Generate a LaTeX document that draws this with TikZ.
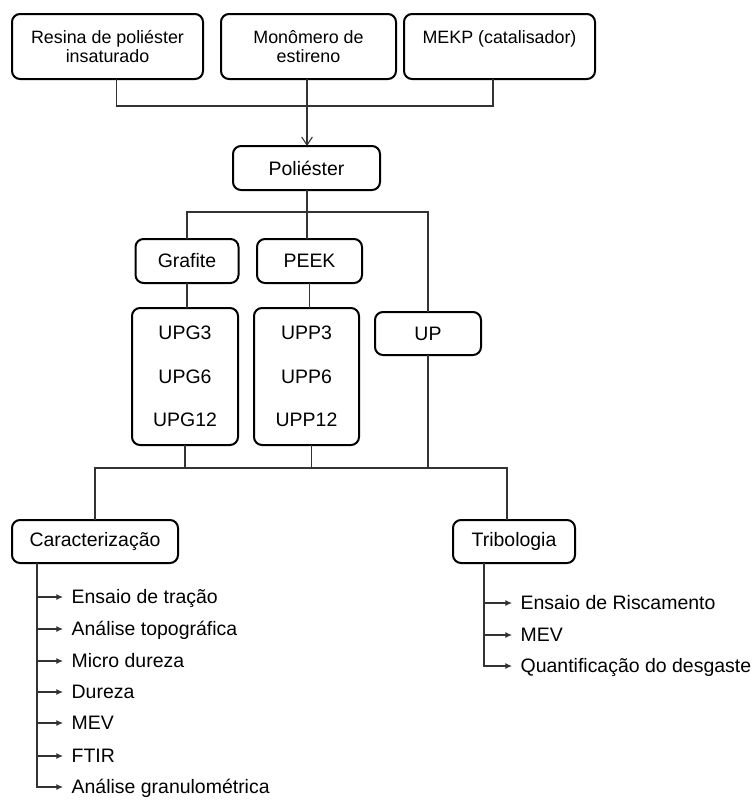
\documentclass[tikz,border=0pt]{standalone}
\usepackage{fontspec}
\setmainfont{Liberation Sans}
\usetikzlibrary{arrows.meta}

\begin{document}
\begin{tikzpicture}[
        x=0.75pt, y=-0.75pt,
        every node/.style={font=\fontsize{14.6}{14.25}\selectfont},
        procbox/.style={
            draw, line width=1.5pt, rounded corners=6pt,
            align=center, inner sep=0pt, outer sep=0pt,
        },
        sourcebox/.style={
            procbox, minimum height=48.75pt,
            font=\fontsize{13.4}{14.25}\selectfont,
        },
        wire/.style={draw=black!80, line width=0.8pt},
        pointer/.style={wire, -{Latex[length=5pt,width=4.5pt]}},
        testitem/.style={
            anchor=west, inner ysep=0pt, inner xsep=6.5pt, outer sep=0pt,
            text height=10.4pt, text depth=0pt,
        },
    ]
    \useasboundingbox (0,0) rectangle (755,800);

    % materias-primas
    \node[sourcebox, minimum width=143.25pt] (resina) at (107.5,46.5) {Resina de poliéster\\insaturado};
    \node[sourcebox, minimum width=131.25pt] (monomero) at (308.5,46.5) {Monômero de\\estireno};
    \node[sourcebox, minimum width=143.25pt] (mekp) at (499.5,46.5) {MEKP (catalisador)\\~};
    \node[procbox, minimum width=110.25pt, minimum height=33pt] (poli) at (306.5,168) {Poliéster};

    % cargas e amostras
    \node[procbox, minimum width=77.25pt, minimum height=33pt] (grafite) at (187,261) {Grafite};
    \node[procbox, minimum width=78.75pt, minimum height=33pt] (peek) at (309.5,261) {PEEK};
    \node[procbox, minimum width=79.5pt, minimum height=102.75pt] (upg) at (185,376.5) {UPG3\\[18.4pt]UPG6\\[18.4pt]UPG12};
    \node[procbox, minimum width=78.75pt, minimum height=102.75pt] (upp) at (306.5,376.5) {UPP3\\[18.4pt]UPP6\\[18.4pt]UPP12};
    \node[procbox, minimum width=79.5pt, minimum height=32.25pt] (up) at (428,333.5) {UP};

    % ensaios
    \node[procbox, minimum width=124.5pt, minimum height=32.25pt] (carac) at (95,541.5) {Caracterização};
    \node[procbox, minimum width=91.5pt, minimum height=32.25pt] (tribo) at (514,541.5) {Tribologia};

    \node[testitem] (c1) at (63,597) {Ensaio de tração};
    \node[testitem] (c2) at (63,629) {Análise topográfica};
    \node[testitem] (c3) at (63,661) {Micro dureza};
    \node[testitem] (c4) at (63,692) {Dureza};
    \node[testitem] (c5) at (63,723) {MEV};
    \node[testitem] (c6) at (63,756) {FTIR};
    \node[testitem] (c7) at (63,787) {Análise granulométrica};

    \node[testitem] (t1) at (512,603) {Ensaio de Riscamento};
    \node[testitem] (t2) at (512,635) {MEV};
    \node[testitem] (t3) at (512,666) {Quantificação do desgaste};

    % ligacoes
    \coordinate (topbus) at (307,106);
    \coordinate (midbus) at (307,212);
    \coordinate (lowbus) at (300,468);

    \draw[wire] ([xshift=6.4pt]resina.south) |- (topbus) -| ([xshift=-4.9pt]mekp.south);
    \draw[wire, -{Straight Barb[length=6pt,width=8pt]}] (monomero.south -| topbus) -- (poli.north -| topbus);

    \draw[wire] (grafite.north) |- (midbus) -| (up.north);
    \draw[wire] (poli.south -| midbus) -- (peek.north -| midbus);
    \draw[wire] (grafite.south) -- (grafite.south |- upg.north);
    \draw[wire] (peek.south) -- (peek.south |- upp.north);

    \draw[wire] (carac.north) |- (lowbus) -| ([xshift=-5.25pt]tribo.north);
    \draw[wire] (upg.south) -- (upg.south |- lowbus);
    \draw[wire] ([xshift=3.4pt]upp.south) -- ([xshift=3.4pt]upp.south |- lowbus);
    \draw[wire] (up.south) -- (up.south |- lowbus);

    \coordinate (cspine) at ([xshift=18.75pt]carac.south west);
    \draw[pointer] (cspine) |- (c7.west);
    \draw[pointer] (cspine |- c1.west) -- (c1.west);
    \draw[pointer] (cspine |- c2.west) -- (c2.west);
    \draw[pointer] (cspine |- c3.west) -- (c3.west);
    \draw[pointer] (cspine |- c4.west) -- (c4.west);
    \draw[pointer] (cspine |- c5.west) -- (c5.west);
    \draw[pointer] (cspine |- c6.west) -- (c6.west);

    \coordinate (tspine) at ([xshift=23.25pt]tribo.south west);
    \draw[pointer] (tspine) |- (t3.west);
    \draw[pointer] (tspine |- t1.west) -- (t1.west);
    \draw[pointer] (tspine |- t2.west) -- (t2.west);
\end{tikzpicture}
\end{document}
